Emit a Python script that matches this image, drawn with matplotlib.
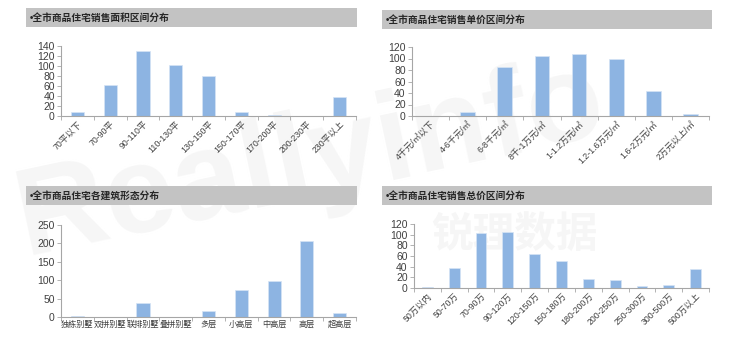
import matplotlib.pyplot as plt

plt.rcParams['font.family'] = ['Liberation Sans', 'Noto Sans CJK SC', 'DejaVu Sans']

# 面积区间
mianji_cats = ["70平以下", "70-90平", "90-110平", "110-130平", "130-150平",
               "150-170平", "170-200平", "200-230平", "230平以上"]
mianji_vals = [9, 63, 130, 103, 80, 9, 2, 0, 39]

# 单价区间
danjia_cats = ["4千元/㎡以下", "4-6千元/㎡", "6-8千元/㎡", "8千-1万元/㎡", "1-1.2万元/㎡",
               "1.2-1.6万元/㎡", "1.6-2万元/㎡", "2万元以上/㎡"]
danjia_vals = [0, 7, 85, 104, 108, 100, 43, 3]

# 建筑形态
xingtai_cats = ["独栋别墅", "双拼别墅", "联排别墅", "叠拼别墅", "多层",
                "小高层", "中高层", "高层", "超高层"]
xingtai_vals = [3, 0, 37, 0, 15, 73, 97, 207, 10]

# 总价区间
zongjia_cats = ["50万以内", "50-70万", "70-90万", "90-120万", "120-150万", "150-180万",
                "180-200万", "200-250万", "250-300万", "300-500万", "500万以上"]
zongjia_vals = [2, 37, 103, 105, 63, 50, 16, 15, 4, 6, 36]

W, H = 740, 337
cor_barra = '#8DB4E2'
cor_eixo = '#A6A6A6'

fig = plt.figure(figsize=(W / 100, H / 100), dpi=100)

# marca d'água (bem clara, atrás de tudo)
fundo = fig.add_axes([0, 0, 1, 1], zorder=-10)
fundo.axis('off')
fundo.text(0.42, 0.52, "Reallyinfo", fontsize=90, color='#F6F6F6', ha='center', va='center',
           fontweight='bold', rotation=12, transform=fundo.transAxes)
fundo.text(0.695, 0.30, "锐理数据", fontsize=30, color='#F6F6F6', ha='center', va='center',
           fontweight='bold', transform=fundo.transAxes)


def px(x0, y0, x1, y1):
    return [x0 / W, 1 - y1 / H, (x1 - x0) / W, (y1 - y0) / H]


def titulo(x0, y0, x1, y1, texto):
    ax = fig.add_axes(px(x0, y0, x1, y1))
    ax.set_facecolor('#C3C3C3')
    ax.set_xticks([])
    ax.set_yticks([])
    for s in ax.spines.values():
        s.set_visible(False)
    ax.text(0.012, 0.5, "•" + texto, fontsize=7, fontweight='bold', va='center',
            ha='left', transform=ax.transAxes, color='#262626')


def grafico(rect, cats, vals, ymax, passo, rot, fs=6.3):
    ax = fig.add_axes(px(*rect))
    ax.patch.set_alpha(0)
    n = len(cats)
    ax.bar(range(n), vals, width=0.4, color=cor_barra, edgecolor='#D6E4F5', linewidth=0.5)
    ax.set_xlim(-0.5, n - 0.5)
    ax.set_ylim(0, ymax)
    ax.set_yticks(range(0, ymax + 1, passo))
    ax.set_xticks([i - 0.5 for i in range(n + 1)], minor=False)
    ax.set_xticklabels([])
    ax.set_xticks(range(n), minor=True)
    if rot:
        ax.set_xticklabels(cats, minor=True, rotation=45, ha='right', rotation_mode='anchor',
                           fontsize=fs, color='#404040')
    else:
        ax.set_xticklabels(cats, minor=True, fontsize=fs, color='#404040')
    ax.tick_params(axis='x', which='minor', length=0, pad=2.5)
    ax.tick_params(axis='x', which='major', length=3, color=cor_eixo, width=0.6)
    ax.tick_params(axis='y', length=3, color=cor_eixo, width=0.6, labelsize=7.5,
                   labelcolor='#404040', pad=1.5)
    for s in ['top', 'right']:
        ax.spines[s].set_visible(False)
    for s in ['left', 'bottom']:
        ax.spines[s].set_color(cor_eixo)
        ax.spines[s].set_linewidth(0.8)
    return ax


titulo(26, 8, 357, 27, "全市商品住宅销售面积区间分布")
titulo(382, 10, 712, 29, "全市商品住宅销售单价区间分布")
titulo(26, 186, 357, 205, "全市商品住宅各建筑形态分布")
titulo(382, 186, 712, 205, "全市商品住宅销售总价区间分布")

grafico((61, 46, 356, 116), mianji_cats, mianji_vals, 140, 20, True)
grafico((412, 47, 709, 116), danjia_cats, danjia_vals, 120, 20, True)
grafico((61, 225, 356, 317), xingtai_cats, xingtai_vals, 250, 50, False, fs=5.9)
grafico((414, 224, 709, 288), zongjia_cats, zongjia_vals, 120, 20, True)

fig.savefig('out.png', dpi=100, facecolor='white')
